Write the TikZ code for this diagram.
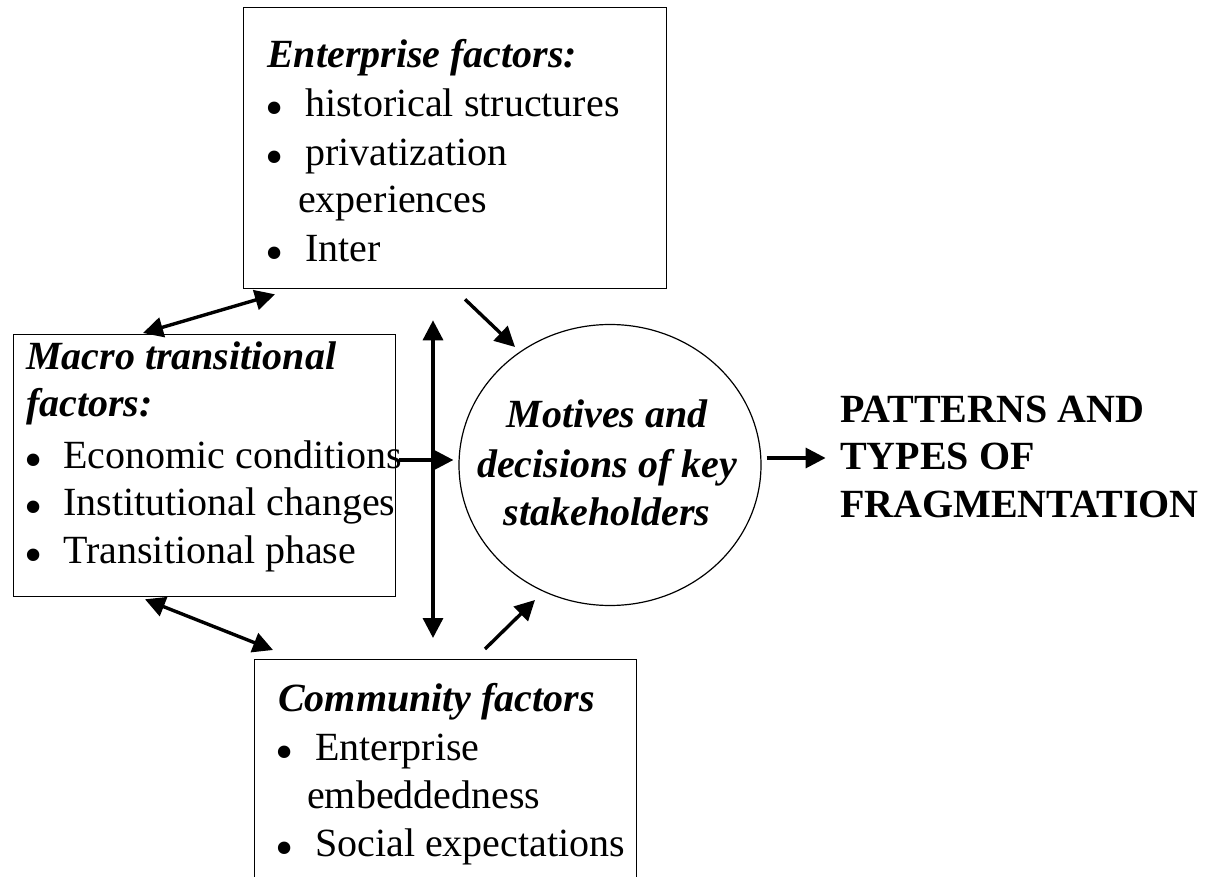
\documentclass[tikz,border=0pt]{standalone}
\usepackage{fontspec}
\setmainfont{Liberation Serif}
\usetikzlibrary{arrows.meta,shapes.geometric,calc}

\newcommand\bul{\raisebox{-9pt}{\scalebox{1.3}{•}}}

\begin{document}
\fontsize{40}{48}\selectfont
\begin{tikzpicture}[x=1pt,y=-1pt,
  box/.style={draw,line width=1.3pt,anchor=north west,inner sep=0pt},
  txt/.style={anchor=base west,inner sep=0pt},
  mid/.style={anchor=base,inner sep=0pt},
  head/.style={font=\bfseries\itshape},
  arr/.style={line width=3.4pt,-{Triangle[length=20pt,width=20pt]}},
  dbl/.style={line width=3.4pt,{Triangle[length=20pt,width=20pt]}-{Triangle[length=20pt,width=20pt]}}]
\useasboundingbox (0,0) rectangle (1211,877);
\clip (0,0) rectangle (1211,877);

% boxes
\node[box,minimum width=423pt,minimum height=281pt](ent) at (243,7) {};
\node[box,minimum width=382pt,minimum height=262pt](mac) at (13,334) {};
\node[box,minimum width=382pt,minimum height=262pt](com) at (254,659) {};
\node[draw,ellipse,line width=1.2pt,inner sep=0pt,minimum width=302pt,minimum height=281pt](circ) at (610,465) {};

% enterprise factors
\node[txt,head](e0) at (267,68) {Enterprise factors:};
\node[txt](e1b) at (265,117) {\bul};
\node[txt](e1) at (305,117) {historical structures};
\node[txt](e2b) at (265,166) {\bul};
\node[txt](e2) at (305,166) {privatization};
\node[txt](e3) at (298,213) {experiences};
\node[txt](e4b) at (265,262) {\bul};
\node[txt](e4) at (305,262) {Inter};

% macro factors
\node[txt,head](m0) at (26,370) {Macro transitional};
\node[txt,head](m1) at (26,417) {factors:};
\node[txt](m2b) at (24,468) {\bul};
\node[txt](m2) at (63,468) {Economic conditions};
\node[txt](m3b) at (24,515) {\bul};
\node[txt](m3) at (63,515) {Institutional changes};
\node[txt](m4b) at (24,563) {\bul};
\node[txt](m4) at (63,563) {Transitional phase};

% community factors
\node[txt,head](c0) at (278,711) {Community factors};
\node[txt](c1b) at (275,760) {\bul};
\node[txt](c1) at (315,760) {Enterprise};
\node[txt](c2) at (307,808) {embeddedness};
\node[txt](c3b) at (275,856) {\bul};
\node[txt](c3) at (315,856) {Social expectations};

% motives
\node[mid,head](k1) at (607,428) {Motives and};
\node[mid,head](k2) at (607,477) {decisions of key};
\node[mid,head](k3) at (607,525) {stakeholders};

% outcome
\node[txt,font=\bfseries](p1) at (840,422) {PATTERNS AND};
\node[txt,font=\bfseries](p2) at (840,469) {TYPES OF};
\node[txt,font=\bfseries](p3) at (840,517) {FRAGMENTATION};

% arrows
\draw[dbl] ($(mac.north west)+(130,-1)$) -- ($(ent.south west)+(32,5)$);
\draw[dbl] ($(mac.south west)+(132,2)$) -- ($(com.north west)+(19,-9)$);
\draw[dbl] ($(ent.south west)+(190,31)$) -- ($(com.north west)+(179,-21)$);
\draw[arr] ($(mac.north east)+(3,126)$) -- ($(circ.west)+(-5,-5)$);
\draw[arr] ($(ent.south west)+(222,10)$) -- ($(circ.center)+(-95,-118)$);
\draw[arr] ($(com.north west)+(231,-10)$) -- ($(circ.center)+(-75,135)$);
\draw[arr] ($(circ.east)+(5,-7)$) -- ($(circ.east)+(64,-7)$);
\end{tikzpicture}
\end{document}
